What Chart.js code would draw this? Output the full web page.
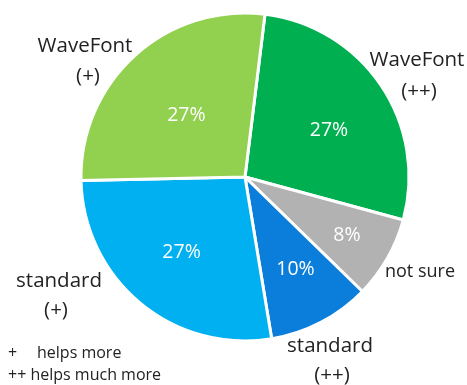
<!DOCTYPE html>
<html>
<head>
<meta charset="utf-8">
<script src="https://cdn.jsdelivr.net/npm/chart.js@4/dist/chart.umd.min.js"></script>
<style>
  html, body { margin: 0; padding: 0; background: #ffffff; }
  #wrap { width: 467px; height: 385px; position: relative; }
</style>
</head>
<body>
<div id="wrap"><canvas id="pie" width="467" height="385"></canvas></div>
<script>
// Survey answers, clockwise from the top
const categories = ['WaveFont (++)', 'not sure', 'standard (++)', 'standard (+)', 'WaveFont (+)'];
const labelLines = [['WaveFont', '(++)'], ['not sure'], ['standard', '(++)'], ['standard', '(+)'], ['WaveFont', '(+)']];
const shares = [27, 8, 10, 27, 27];
const sliceColors = ['#00B050', '#B2B2B2', '#0B7DDA', '#00B0F0', '#92D050'];
const footnoteMarks = ['+', '++'];
const footnoteTexts = ['helps more', 'helps much more'];

const FONT = '"Open Sans", "Noto Sans", sans-serif';

// Percentage placement inside each slice: fraction of radius and angle nudge (degrees)
const pctPlace = [
  { r: 0.585, da: 5 },
  { r: 0.716, da: 0 },
  { r: 0.644, da: -1 },
  { r: 0.60, da: 0.4 },
  { r: 0.518, da: -1.5 }
];

// Category label anchors (centre of each text line) and line spacing
const outsideLabelPos = [
  [{ x: 417, y: 60 }, { x: 419, y: 91 }],
  [{ x: 420, y: 272 }],
  [{ x: 330, y: 346 }, { x: 332, y: 375 }],
  [{ x: 59, y: 281 }, { x: 56, y: 310 }],
  [{ x: 85, y: 46 }, { x: 88, y: 76 }]
];

const sliceText = {
  id: 'sliceText',
  afterDatasetsDraw(chart) {
    const ctx = chart.ctx;
    const meta = chart.getDatasetMeta(0);
    ctx.save();
    ctx.textAlign = 'center';
    ctx.textBaseline = 'middle';
    meta.data.forEach((arc, i) => {
      const { x, y, startAngle, endAngle, outerRadius } = arc.getProps(['x', 'y', 'startAngle', 'endAngle', 'outerRadius'], true);
      const mid = (startAngle + endAngle) / 2 + pctPlace[i].da * Math.PI / 180;
      const px = x + Math.cos(mid) * outerRadius * pctPlace[i].r;
      const py = y + Math.sin(mid) * outerRadius * pctPlace[i].r;
      ctx.fillStyle = '#ffffff';
      ctx.font = '19.5px ' + FONT;
      ctx.fillText(shares[i] + '%', px, py);
      // category label outside the pie
      ctx.fillStyle = '#222222';
      labelLines[i].forEach((ln, k) => {
        const pos = outsideLabelPos[i][k];
        ctx.font = (i === 1 ? '18px ' : '20.5px ') + FONT;
        ctx.fillText(ln, pos.x, pos.y);
      });
    });
    // footnote
    ctx.textAlign = 'left';
    ctx.font = '16px ' + FONT;
    ctx.fillStyle = '#222222';
    ctx.fillText(footnoteMarks[0], 8, 353);
    ctx.fillText(footnoteTexts[0], 37, 353);
    ctx.fillText(footnoteMarks[1] + ' ' + footnoteTexts[1], 8, 375);
    ctx.restore();
  }
};

new Chart(document.getElementById('pie'), {
  type: 'pie',
  data: {
    labels: categories,
    datasets: [{
      data: shares,
      backgroundColor: sliceColors,
      borderColor: '#ffffff',
      borderWidth: 3,
      hoverOffset: 0
    }]
  },
  options: {
    responsive: false,
    animation: false,
    rotation: 7,
    radius: 164,
    layout: { padding: { left: 81, right: 58, top: 13, bottom: 44 } },
    plugins: {
      legend: { display: false },
      tooltip: { enabled: false }
    },
    events: []
  },
  plugins: [sliceText]
});
</script>
</body>
</html>
